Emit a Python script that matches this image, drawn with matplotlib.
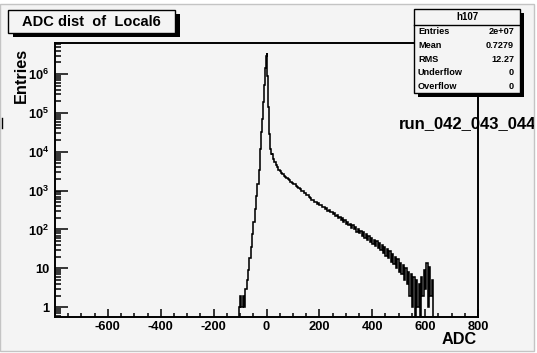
import numpy as np
import matplotlib
matplotlib.use("Agg")
import matplotlib.pyplot as plt
from matplotlib.patches import Rectangle
from matplotlib.ticker import FixedLocator, FixedFormatter, LogLocator, NullFormatter, MultipleLocator

plt.rcParams["font.family"] = ["Liberation Sans", "DejaVu Sans"]
plt.rcParams["font.weight"] = "bold"
plt.rcParams["mathtext.fontset"] = "custom"
plt.rcParams["mathtext.rm"] = "Liberation Sans:bold"
plt.rcParams["mathtext.bf"] = "Liberation Sans:bold"
plt.rcParams["mathtext.it"] = "Liberation Sans:bold"
plt.rcParams["mathtext.default"] = "bf"

# ---- histogram content (ADC counts) ----
# pedestal side, 5-ADC bins from -105 to -25
low_counts = [1, 2, 1, 2, 1, 3, 5, 9, 18, 36,
              75, 160, 340, 720, 1500, 3300]

# peak region, 1-ADC bins from -25 to 20
peak_counts = [7100, 9100, 11700, 15100, 19500, 25100, 32400, 41700, 53700, 69200,
               89100, 115000, 148000, 191000, 245000, 316000, 407000, 525000, 676000, 871000,
               1120000, 1450000, 1860000, 2400000, 2950000, 3500000, 2240000, 1410000, 891000, 562000,
               355000, 224000, 141000, 89100, 60300, 39800, 28200, 20900, 16600, 13800,
               11700, 10500, 9500, 8900, 8300]

# signal tail, 5-ADC bins from 20 to 640
tail_counts = [8600, 6600, 5350, 4500, 3950, 3480, 3150, 2880, 2640,
               2420, 2260, 2080, 1950, 1830, 1690, 1610, 1480, 1440, 1310,
               1270, 1150, 1110, 1000, 985, 880, 860, 770, 760, 670,
               665, 590, 585, 520, 525, 460, 480, 420, 430, 380,
               390, 335, 355, 300, 320, 275, 290, 250, 260, 222,
               236, 200, 212, 178, 192, 160, 172, 142, 158, 128,
               140, 112, 130, 100, 116, 88, 104, 80, 93, 70,
               84, 62, 76, 55, 68, 48, 62, 42, 55, 37,
               50, 33, 45, 29, 40, 25, 36, 21, 31, 18,
               28, 15, 24, 13, 20, 10, 17, 8, 14, 7,
               12, 5, 10, 4, 8, 2, 7, 1, 6, 0,
               5, 1, 4, 0, 6, 2, 9, 3, 14, 1,
               11, 2, 5, 0, 0]

x_tick_values = [-800, -600, -400, -200, 0, 200, 400, 600, 800]
x_tick_labels = ["", "-600", "-400", "-200", "0", "200", "400", "600", "800"]
y_tick_values = [1, 10, 1e2, 1e3, 1e4, 1e5, 1e6]
y_tick_labels = ["1", "10", r"$10^{2}$", r"$10^{3}$", r"$10^{4}$", r"$10^{5}$", r"$10^{6}$"]

hist_name = "h107"
stats_labels = ["Entries", "Mean", "RMS", "Underflow", "Overflow"]
stats_values = ["2e+07", "0.7279", "12.27", "0", "0"]

title_text = "ADC dist  of  Local6"
run_text = "run_042_043_044"

counts = np.array(low_counts + peak_counts + tail_counts, dtype=float)
edges = np.concatenate([
    -105 + 5 * np.arange(len(low_counts)),
    -25 + np.arange(len(peak_counts)),
    20 + 5 * np.arange(len(tail_counts) + 1),
])

# ---- figure ----
W, H = 537, 353
BG = "#f4f4f4"
fig = plt.figure(figsize=(W / 100, H / 100), dpi=100, facecolor="white")

# canvas background with its thin frame
fig.add_artist(Rectangle((0, (H - 351) / H), 534 / W, 347 / H,
                         transform=fig.transFigure, facecolor=BG,
                         edgecolor="#c4c4c4", lw=1.0, zorder=-5))

ax = fig.add_axes([55 / W, (H - 317) / H, (478 - 55) / W, (317 - 43) / H])
ax.set_facecolor(BG)

floor = 0.1  # empty bins drawn at the bottom of the log axis
ax.stairs(np.where(counts > 0, counts, floor), edges, baseline=floor,
          color="black", lw=1.15)

ax.set_yscale("log")
ax.set_xlim(-800, 800)
ax.set_ylim(0.56, 6.3e6)

ax.xaxis.set_major_locator(FixedLocator(x_tick_values))
ax.xaxis.set_major_formatter(FixedFormatter(x_tick_labels))
ax.xaxis.set_minor_locator(MultipleLocator(50))
ax.yaxis.set_major_locator(FixedLocator(y_tick_values))
ax.yaxis.set_major_formatter(FixedFormatter(y_tick_labels))
ax.yaxis.set_minor_locator(LogLocator(base=10, subs=np.arange(2, 10), numticks=100))
ax.yaxis.set_minor_formatter(NullFormatter())

ax.tick_params(which="both", direction="in", top=False, right=False,
               width=1.1, labelsize=9.3, colors="black")
ax.tick_params(axis="x", which="major", length=5.8, pad=3)
ax.tick_params(axis="x", which="minor", length=2.9)
ax.tick_params(axis="y", which="major", length=9.0, pad=4)
ax.tick_params(axis="y", which="minor", length=4.5)
for lab in ax.get_xticklabels() + ax.get_yticklabels():
    lab.set_fontweight("bold")
for sp in ax.spines.values():
    sp.set_linewidth(1.4)

# ---- overlay in pixel coordinates for boxes and labels ----
ov = fig.add_axes([0, 0, 534 / W, 1], zorder=10)
ov.set_xlim(0, 534)
ov.set_ylim(H, 0)
ov.axis("off")
ov.patch.set_visible(False)

# title box with shadow
ov.add_patch(Rectangle((13, 14), 167, 23, facecolor="black", edgecolor="none"))
ov.add_patch(Rectangle((8, 10), 167, 23, facecolor=BG, edgecolor="black", lw=1.0))
ov.text(91.5, 21.5, title_text, ha="center", va="center", fontsize=10.5,
        fontweight="bold")

# statistics box with shadow
bx, by, bw, bh = 414, 9.3, 106, 83.7
ov.add_patch(Rectangle((bx + 4, by + 4), bw, bh, facecolor="black", edgecolor="none"))
ov.add_patch(Rectangle((bx, by), bw, bh, facecolor=BG, edgecolor="black", lw=1.0))
ov.plot([bx, bx + bw], [25, 25], color="black", lw=1.0)
ov.text(bx + bw / 2, 17.3, hist_name, ha="center", va="center", fontsize=7,
        fontweight="bold")
row_step = (by + bh - 25) / len(stats_labels)
for i, (lab, val) in enumerate(zip(stats_labels, stats_values)):
    yy = 25 + row_step * (i + 0.5)
    ov.text(bx + 4, yy, lab, ha="left", va="center", fontsize=6.6, fontweight="bold")
    ov.text(bx + bw - 6, yy, val, ha="right", va="center", fontsize=6.6,
            fontweight="bold")

# axis titles
ov.text(21, 48, "Entries", rotation=90, ha="center", va="top", fontsize=11.7,
        fontweight="bold")
ov.text(477, 340, "ADC", ha="right", va="center", fontsize=11.7, fontweight="bold")

# run label
ov.text(399, 124, run_text, ha="left", va="center", fontsize=12,
        fontweight="bold", clip_on=True)

# small mark at the left edge
ov.plot([2, 2], [118, 128], color="black", lw=1.0)

fig.savefig("out.png", dpi=100, facecolor="white")
